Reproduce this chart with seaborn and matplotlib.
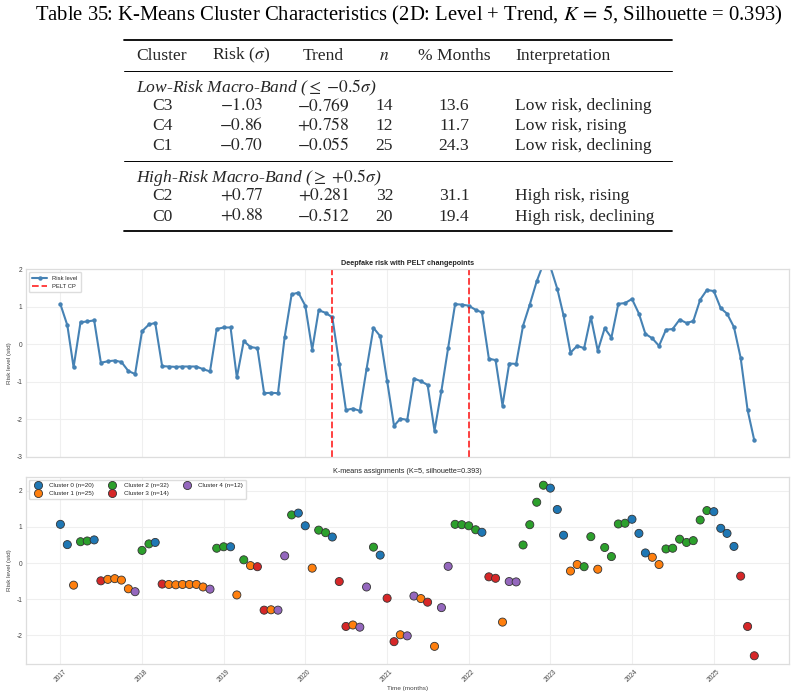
import numpy as np
import pandas as pd
import matplotlib
matplotlib.use("Agg")
import matplotlib.pyplot as plt
import seaborn as sns
from matplotlib.lines import Line2D

# ------------------------------------------------------------------ data
start_month = "2017-01-01"
risk_level = [
    1.07, 0.51, -0.61, 0.59, 0.61, 0.64, -0.49, -0.45, -0.43, -0.47, -0.71, -0.79,
    0.35, 0.53, 0.57, -0.58, -0.59, -0.60, -0.59, -0.59, -0.59, -0.66, -0.72, 0.41,
    0.45, 0.45, -0.88, 0.09, -0.07, -0.10, -1.30, -1.29, -1.30, 0.20, 1.33, 1.38,
    1.03, -0.14, 0.91, 0.84, 0.72, -0.51, -1.75, -1.71, -1.77, -0.66, 0.44, 0.22,
    -0.97, -2.17, -1.98, -2.01, -0.91, -0.98, -1.08, -2.30, -1.23, -0.09, 1.07, 1.06,
    1.03, 0.92, 0.85, -0.38, -0.42, -1.63, -0.51, -0.52, 0.50, 1.06, 1.68, 2.15,
    2.07, 1.48, 0.77, -0.22, -0.04, -0.10, 0.73, -0.17, 0.43, 0.18, 1.08, 1.10,
    1.21, 0.82, 0.28, 0.16, -0.04, 0.39, 0.41, 0.66, 0.57, 0.62, 1.19, 1.45,
    1.42, 0.96, 0.82, 0.46, -0.36, -1.75, -2.56,
]
cluster_id = [
    0, 0, 1, 2, 2, 0, 3, 1, 1, 1, 1, 4,
    2, 2, 0, 3, 1, 1, 1, 1, 1, 1, 4, 2,
    2, 0, 1, 2, 1, 3, 3, 1, 4, 4, 2, 0,
    0, 1, 2, 2, 0, 3, 3, 1, 4, 4, 2, 0,
    3, 3, 1, 4, 4, 1, 3, 1, 4, 4, 2, 2,
    2, 2, 0, 3, 3, 1, 4, 4, 2, 2, 2, 2,
    0, 0, 0, 1, 1, 2, 2, 1, 2, 2, 2, 2,
    0, 0, 0, 1, 1, 2, 2, 2, 2, 2, 2, 2,
    0, 0, 0, 0, 3, 3, 3,
]
changepoints = ["2020-05-01", "2022-01-01"]
n_clusters = 5
silhouette = 0.393

# table contents
table_title = (r"Table 35: K-Means Cluster Characteristics (2D: Level + Trend, "
               r"$K\,=\,5$, Silhouette = 0.393)")
col_headers = ["Cluster", r"Risk ($\sigma$)", "Trend", r"$n$", "% Months", "Interpretation"]
band_labels = [r"Low-Risk Macro-Band ($\leq\;{-}0.5\sigma$)",
               r"High-Risk Macro-Band ($\geq\;{+}0.5\sigma$)"]
band_clusters = [["C3", "C4", "C1"], ["C2", "C0"]]
band_risk = [["-1.03", "-0.86", "-0.70"], ["+0.77", "+0.88"]]
band_trend = [["-0.769", "+0.758", "-0.055"], ["+0.281", "-0.512"]]
band_n = [["14", "12", "25"], ["32", "20"]]
band_pct = [["13.6", "11.7", "24.3"], ["31.1", "19.4"]]
band_interp = [["Low risk, declining", "Low risk, rising", "Low risk, declining"],
               ["High risk, rising", "High risk, declining"]]

# ------------------------------------------------------------------ setup
sns.set_theme(style="whitegrid")
plt.rcParams["font.family"] = ["Liberation Sans", "DejaVu Sans"]
plt.rcParams["mathtext.fontset"] = "stix"
plt.rcParams["axes.unicode_minus"] = False

W, H = 796, 697
fig = plt.figure(figsize=(W / 100, H / 100), dpi=100)


def fx(x):
    return x / W


def fy(y):
    return 1 - y / H


# ------------------------------------------------------------------ table
serif = ["Liberation Serif", "DejaVu Serif"]
tfs = 12.6
fig.text(fx(35), fy(20), table_title, ha="left", va="baseline",
         fontsize=14.9, family=serif, color="black")

rule_x = [fx(124), fx(672)]
for y, lw in [(39.5, 1.3), (70.5, 0.7), (160.5, 0.7), (230.8, 1.3)]:
    fig.add_artist(Line2D(rule_x, [fy(y), fy(y)], lw=lw, color="black",
                          transform=fig.transFigure))

col_x = [162, 241.5, 323.5, 384.5, 454, 515]
col_ha = ["center", "center", "center", "center", "center", "left"]
hdr_base = 59.5
for x, ha, txt in zip(col_x, col_ha, col_headers):
    fig.text(fx(x), fy(hdr_base), txt, ha=ha, va="baseline", fontsize=tfs,
             family=serif)

band_base = [92, 181.5]
row_base = [[110.5, 130.5, 150.5], [200.5, 220.5]]
for b in range(2):
    fig.text(fx(135.5), fy(band_base[b]), band_labels[b], ha="left", va="baseline",
             fontsize=tfs, family=serif, style="italic")
    for r in range(len(band_clusters[b])):
        yb = fy(row_base[b][r])
        vals = [band_clusters[b][r], "$" + band_risk[b][r] + "$",
                "$" + band_trend[b][r] + "$", band_n[b][r], band_pct[b][r],
                band_interp[b][r]]
        for x, ha, txt in zip(col_x, col_ha, vals):
            fig.text(fx(x), yb, txt, ha=ha, va="baseline", fontsize=tfs,
                     family=serif)

# ------------------------------------------------------------------ charts
df = pd.DataFrame({
    "date": pd.date_range(start_month, periods=len(risk_level), freq="MS"),
    "risk": risk_level,
    "cluster": cluster_id,
})
counts = df["cluster"].value_counts().sort_index()
label_map = {k: f"Cluster {k} (n={counts[k]})" for k in range(n_clusters)}
df["label"] = df["cluster"].map(label_map)
hue_order = [label_map[k] for k in range(n_clusters)]

left, right = 25.7, 789
ax1 = fig.add_axes([fx(left), fy(457), fx(right) - fx(left), fy(269.3) - fy(457)])
ax2 = fig.add_axes([fx(left), fy(664.3), fx(right) - fx(left), fy(476.7) - fy(664.3)],
                   sharex=ax1)

line_color = "#4682b4"
sns.lineplot(data=df, x="date", y="risk", ax=ax1, color=line_color, lw=1.5,
             marker="o", markersize=3.2, markeredgewidth=0, label="Risk level")
for i, cp in enumerate(changepoints):
    ax1.axvline(pd.Timestamp(cp), color="red", ls="--", lw=1.3, alpha=0.8,
                label="PELT CP" if i == 0 else None)
ax1.set_ylim(-3, 2)
ax1.set_title("Deepfake risk with PELT changepoints", fontsize=5.2,
              fontweight="bold", pad=3)
ax1.set_ylabel("Risk level (std)", fontsize=4.6, labelpad=3, color="#444444")
ax1.set_xlabel("")
ax1.tick_params(axis="x", labelbottom=False)
ax1.legend(loc="upper left", fontsize=4.2, frameon=True, handlelength=2.6,
           borderpad=0.6, labelspacing=0.5, framealpha=1, edgecolor="#dddddd")

palette = sns.color_palette("tab10", n_clusters)
sns.scatterplot(data=df, x="date", y="risk", hue="label", hue_order=hue_order,
                palette=palette, s=34, edgecolor="#333333", linewidth=0.6, ax=ax2)
ax2.set_title(f"K-means assignments (K={n_clusters}, silhouette={silhouette})",
              fontsize=5.2, pad=3)
ax2.set_ylabel("Risk level (std)", fontsize=4.6, labelpad=3, color="#444444")
ax2.set_xlabel("Time (months)", fontsize=4.6, labelpad=2, color="#444444")
ax2.legend(loc="upper left", ncol=3, fontsize=4.5, frameon=True, markerscale=1.0,
           borderpad=0.5, labelspacing=0.4, columnspacing=1.9, handletextpad=0.8,
           framealpha=1, edgecolor="#dddddd")

for ax in (ax1, ax2):
    ax.tick_params(axis="both", labelsize=4.8, colors="#444444", length=0, pad=2.5)
    ax.grid(True, color="#efefef", lw=0.8)
    for sp in ax.spines.values():
        sp.set_color("#dddddd")
        sp.set_linewidth(0.9)
for lab in ax2.get_xticklabels():
    lab.set_rotation(45)

fig.savefig("out.png", dpi=100)
